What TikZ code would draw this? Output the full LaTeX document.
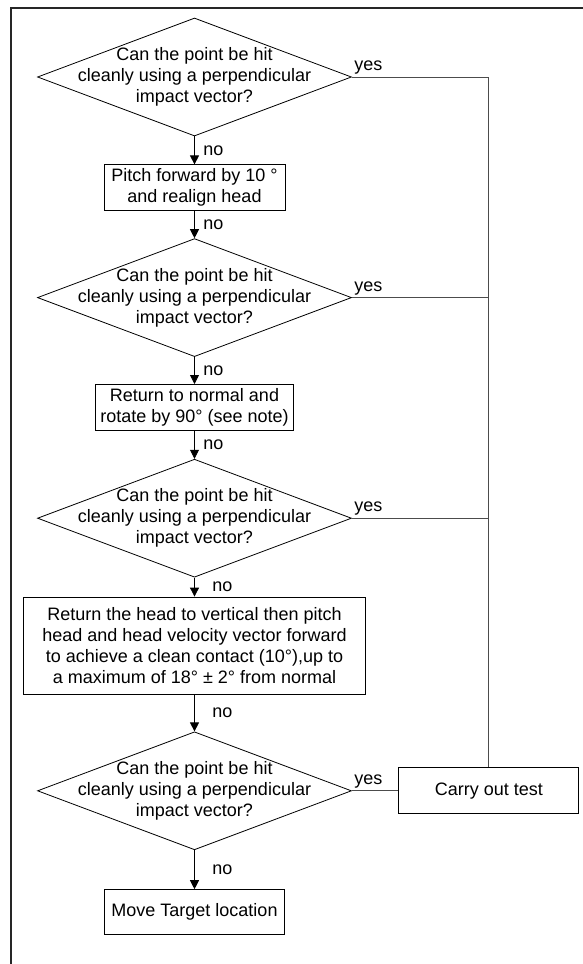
\documentclass[tikz,border=0pt]{standalone}
\usepackage{fontspec}
\setmainfont{Liberation Sans}
\usetikzlibrary{shapes.geometric,positioning,arrows.meta}
\begin{document}
\begin{tikzpicture}[x=1pt, y=-1pt, font=\fontsize{18}{21}\selectfont,
  question/.style={diamond, draw, line width=0.8pt, minimum width=314pt, minimum height=118pt, inner sep=0pt,
    label={[align=center]center:Can the point be hit\\cleanly using a perpendicular\\impact vector?}},
  action/.style={rectangle, draw, line width=0.8pt, align=center, inner sep=0pt},
  flow/.style={-{Triangle[length=9pt,width=9pt]}, line width=0.8pt},
  yesline/.style={draw=black!70, line width=1pt},
  nolbl/.style={right=#1, inner sep=0pt},
  yeslbl/.style={above right, inner sep=2pt}]
  \useasboundingbox (0,0) rectangle (583,964);
  \draw[line width=2pt, black!85] (583,7.5) -- (11,7.5) -- (11,964);
  \node[question] (q1) at (194.5,77) {};
  \node[action, minimum width=181pt, minimum height=46pt, below=28pt of q1] (pitch) {Pitch forward by 10 °\\and realign head};
  \node[question, below=27pt of pitch] (q2) {};
  \node[action, minimum width=198pt, minimum height=46pt, below=27pt of q2] (rotate) {Return to normal and\\rotate by 90° (see note)};
  \node[question, below=28pt of rotate] (q3) {};
  \node[action, minimum width=342pt, minimum height=97pt, below=19pt of q3] (vertical) {Return the head to vertical then pitch\\head and head velocity vector forward\\to achieve a clean contact (10°),up to\\a maximum of 18° ± 2° from normal};
  \node[question, below=37pt of vertical] (q4) {};
  \node[action, minimum width=180pt, minimum height=45pt, below=39pt of q4] (move) {Move Target location};
  \node[action, minimum width=180pt, minimum height=46pt, right=46.5pt of q4] (test) {Carry out test};
  \draw[flow] (q1) -- node[nolbl=8.5pt] {no} (pitch);
  \draw[flow] (pitch) -- node[nolbl=8.5pt] {no} (q2);
  \draw[flow] (q2) -- node[nolbl=8.5pt] {no} (rotate);
  \draw[flow] (rotate) -- node[nolbl=8.5pt] {no} (q3);
  \draw[flow] (q3) -- node[nolbl=17.5pt] {no} (vertical);
  \draw[flow] (vertical) -- node[nolbl=17.5pt] {no} (q4);
  \draw[flow] (q4) -- node[nolbl=17.5pt] {no} (move);
  \draw[yesline] (q1.east) node[yeslbl] {yes} -- (q1.east -| test.north) -- (test.north);
  \draw[yesline] (q2.east) node[yeslbl] {yes} -- (q2.east -| test.north);
  \draw[yesline] (q3.east) node[yeslbl] {yes} -- (q3.east -| test.north);
  \draw[yesline] (q4.east) node[yeslbl] {yes} -- (test.west);
\end{tikzpicture}
\end{document}
